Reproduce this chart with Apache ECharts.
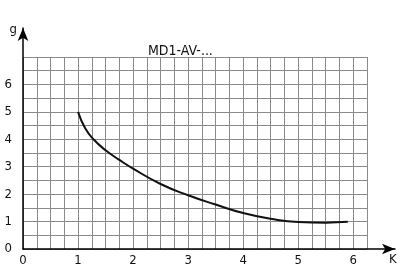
<!DOCTYPE html>
<html>
<head>
<meta charset="utf-8">
<script src="https://cdn.jsdelivr.net/npm/echarts@6/dist/echarts.min.js"></script>
<style>html,body{margin:0;padding:0;background:#fff}#c{width:400px;height:279px}</style>
</head>
<body>
<div id="c"></div>
<script>
const titleText = 'MD1-AV-...';
const xName = 'K';
const yName = 'g';
const xValues = [1, 1.13, 1.28, 1.5, 1.75, 2.0, 2.5, 3.0, 3.5, 4.0, 4.5, 5.0, 5.5, 5.9];
const yValues = [5.0, 4.4, 4.0, 3.6, 3.25, 2.93, 2.37, 1.96, 1.62, 1.31, 1.1, 0.98, 0.96, 0.99];
const xTickLabels = [0, 1, 2, 3, 4, 5, 6];
const yTickLabels = [0, 1, 2, 3, 4, 5, 6];

const font = '"DejaVu Sans Condensed","Liberation Sans Narrow",sans-serif';
const chart = echarts.init(document.getElementById('c'));
chart.setOption({
  animation: false,
  title: {
    text: titleText, left: 143, top: 39,
    textStyle: {fontFamily: font, fontSize: 14, fontWeight: 'normal', color: '#111'}
  },
  grid: [
    {left: 23, top: 57, width: 344, height: 192},
    {left: 23, top: 28, width: 372, height: 221}
  ],
  xAxis: [
    {
      type: 'value', gridIndex: 0, min: 0, max: 6.25, interval: 0.25,
      axisLine: {show: false}, axisTick: {show: false},
      splitLine: {show: true, lineStyle: {color: '#8a8a8a', width: 1}},
      axisLabel: {
        margin: 5, color: '#111', fontFamily: font, fontSize: 13,
        formatter: v => xTickLabels.includes(v) ? String(v) : ''
      }
    },
    {
      type: 'value', gridIndex: 1, min: 0, max: 1,
      axisLine: {show: true, lineStyle: {color: '#000', width: 1.5}, symbol: ['none', 'arrow'], symbolSize: [8, 13]},
      axisTick: {show: false}, axisLabel: {show: false}, splitLine: {show: false},
      name: xName, nameLocation: 'end', nameGap: -6,
      nameTextStyle: {fontFamily: font, fontSize: 13, color: '#111', align: 'left', verticalAlign: 'top', padding: [4, 0, 0, 0]}
    }
  ],
  yAxis: [
    {
      type: 'value', gridIndex: 0, min: 0, max: 7, interval: 0.5,
      axisLine: {show: false}, axisTick: {show: false},
      splitLine: {show: true, lineStyle: {color: '#8a8a8a', width: 1}},
      axisLabel: {
        margin: 11, color: '#111', fontFamily: font, fontSize: 13,
        formatter: v => yTickLabels.includes(v) ? String(v) : ''
      }
    },
    {
      type: 'value', gridIndex: 1, min: 0, max: 1,
      axisLine: {show: true, lineStyle: {color: '#000', width: 1.5}, symbol: ['none', 'arrow'], symbolSize: [8, 13]},
      axisTick: {show: false}, axisLabel: {show: false}, splitLine: {show: false},
      name: yName, nameLocation: 'end', nameGap: -2,
      nameTextStyle: {fontFamily: font, fontSize: 13, color: '#111', align: 'right', verticalAlign: 'middle', padding: [0, 6, 0, 0]}
    }
  ],
  series: [{
    type: 'line', xAxisIndex: 0, yAxisIndex: 0,
    data: xValues.map((x, i) => [x, yValues[i]]),
    smooth: true, showSymbol: false,
    lineStyle: {color: '#111', width: 2}
  }]
});
</script>
</body>
</html>
